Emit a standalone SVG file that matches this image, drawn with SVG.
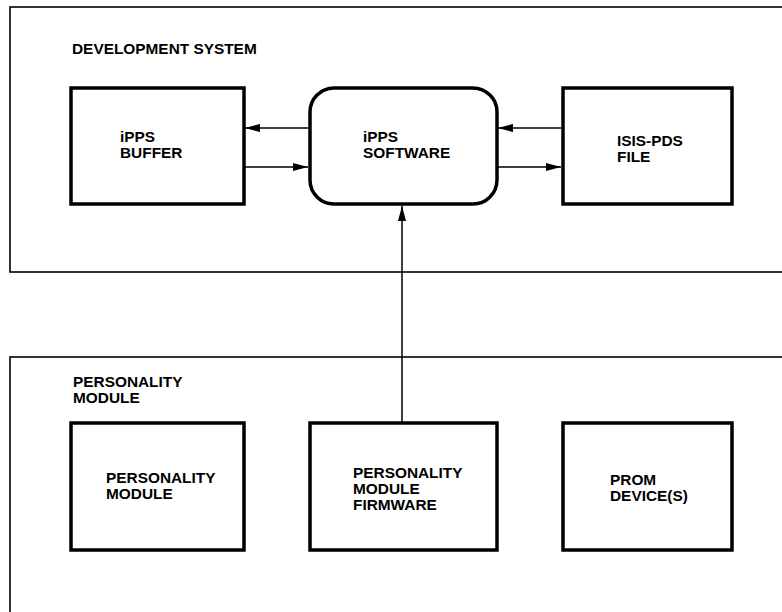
<svg xmlns="http://www.w3.org/2000/svg" width="782" height="612" viewBox="0 0 782 612">
<defs>
<marker id="ah" markerWidth="15" markerHeight="8" refX="15" refY="4" orient="auto" markerUnits="userSpaceOnUse">
<path d="M0,0 L15,4 L0,8 Z" fill="#000"/>
</marker>
</defs>
<style>
.outer{fill:none;stroke:#000;stroke-width:1.6}
.box{fill:#fff;stroke:#000;stroke-width:3.5}
.lbl{font-family:"Liberation Sans",Arial,sans-serif;font-weight:bold;font-size:15.4px;fill:#000}
.conn{fill:none;stroke:#000;stroke-width:1.5;marker-end:url(#ah)}
</style>
<rect width="782" height="612" fill="#fff"/>
<g id="development-system">
<rect class="outer" x="10" y="7" width="790" height="265"/>
<text class="lbl" x="72" y="54">DEVELOPMENT SYSTEM</text>
</g>
<g id="personality-module-group">
<rect class="outer" x="10" y="357" width="790" height="280"/>
<text class="lbl" x="73" y="387">PERSONALITY</text>
<text class="lbl" x="73" y="403">MODULE</text>
</g>
<g id="ipps-buffer">
<rect class="box" x="71" y="88" width="173" height="116"/>
<text class="lbl" x="120" y="142">iPPS</text>
<text class="lbl" x="120" y="158">BUFFER</text>
</g>
<g id="ipps-software">
<rect class="box" x="310" y="88" width="187" height="116" rx="24" ry="24"/>
<text class="lbl" x="363" y="142">iPPS</text>
<text class="lbl" x="363" y="158">SOFTWARE</text>
</g>
<g id="isis-pds-file">
<rect class="box" x="563" y="88" width="169" height="116"/>
<text class="lbl" x="617" y="146">ISIS-PDS</text>
<text class="lbl" x="617" y="162">FILE</text>
</g>
<g id="personality-module">
<rect class="box" x="71" y="423" width="173" height="127"/>
<text class="lbl" x="106" y="483">PERSONALITY</text>
<text class="lbl" x="106" y="499">MODULE</text>
</g>
<g id="personality-module-firmware">
<rect class="box" x="310" y="423" width="187" height="127"/>
<text class="lbl" x="353" y="478">PERSONALITY</text>
<text class="lbl" x="353" y="494">MODULE</text>
<text class="lbl" x="353" y="510">FIRMWARE</text>
</g>
<g id="prom-devices">
<rect class="box" x="563" y="423" width="169" height="127"/>
<text class="lbl" x="610" y="485">PROM</text>
<text class="lbl" x="610" y="501">DEVICE(S)</text>
</g>
<g id="connectors">
<line class="conn" x1="308" y1="128" x2="245" y2="128"/>
<line class="conn" x1="245" y1="167" x2="308" y2="167"/>
<line class="conn" x1="561" y1="128" x2="498" y2="128"/>
<line class="conn" x1="498" y1="167" x2="561" y2="167"/>
<line class="conn" x1="402" y1="422" x2="402" y2="206"/>
</g>
</svg>
